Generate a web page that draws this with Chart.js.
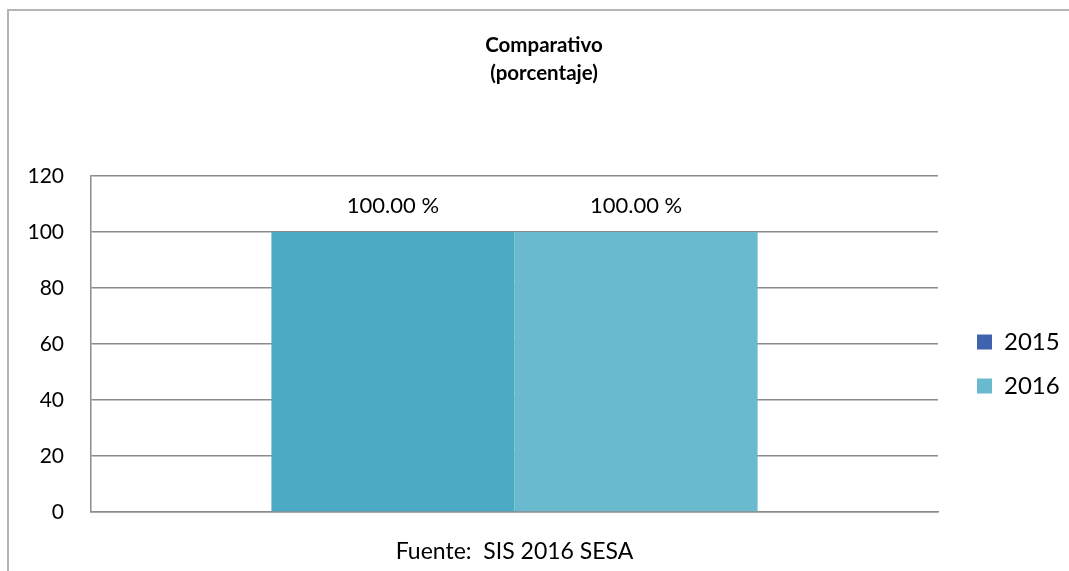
<!DOCTYPE html>
<html>
<head>
<meta charset="utf-8">
<script src="https://cdn.jsdelivr.net/npm/chart.js@4/dist/chart.umd.min.js"></script>
<style>
  body { margin: 0; background: #fff; }
  #wrap { position: relative; width: 1069px; height: 571px; }
  #frame { position: absolute; left: 7px; top: 9px; right: 0; bottom: 0;
           border-top: 2px solid #b4b4b4; border-left: 2px solid #b4b4b4; }
  canvas { position: absolute; left: 0; top: 0; }
</style>
</head>
<body>
<div id="wrap">
  <div id="frame"></div>
  <canvas id="barChart" width="1069" height="571"></canvas>
</div>
<script>
// Chart data
const categories = ["Fuente:  SIS 2016 SESA"];
const seriesNames = ["2015", "2016"];
const values2015 = [100];
const values2016 = [100];
const yTicks = [0, 20, 40, 60, 80, 100, 120];

// Colours (bar fill vs legend swatch differ in the original)
const barColors = ["#4BABC5", "#69B9CF"];
const legendColors = ["#4063AF", "#69B9CF"];

const FONT = "Lato, 'Open Sans', sans-serif";

// Draws "100.00 %" above each bar
const valueLabels = {
  id: "valueLabels",
  afterDatasetsDraw(chart) {
    const ctx = chart.ctx;
    ctx.save();
    ctx.font = "22px " + FONT;
    ctx.fillStyle = "#000";
    ctx.textAlign = "center";
    ctx.textBaseline = "middle";
    chart.data.datasets.forEach((ds, i) => {
      chart.getDatasetMeta(i).data.forEach((bar, j) => {
        ctx.fillText(ds.data[j].toFixed(2) + " %", bar.x, bar.y - 26);
      });
    });
    ctx.restore();
  },
};

const config = {
  type: "bar",
  data: {
    labels: categories,
    datasets: [
      { label: seriesNames[0], data: values2015, backgroundColor: barColors[0] },
      { label: seriesNames[1], data: values2016, backgroundColor: barColors[1] },
    ],
  },
  options: {
    responsive: false,
    animation: false,
    layout: { padding: { left: 19, right: 0, top: 0, bottom: 5.4 } },
    datasets: { bar: { categoryPercentage: 0.574, barPercentage: 1 } },
    plugins: {
      title: {
        display: true,
        text: ["Comparativo", "(porcentaje)"],
        color: "#000",
        font: { family: FONT, size: 20.5, weight: "bold", lineHeight: 1.366 },
        padding: { top: 31, bottom: 89 },
      },
      legend: {
        position: "right",
        fullSize: false,
        maxWidth: 112,
        // empty title only pushes the entries down a bit
        title: { display: true, text: "", font: { size: 10 }, padding: 14 },
        labels: {
          color: "#000",
          font: { family: FONT, size: 24 },
          boxWidth: 15,
          boxHeight: 15,
          padding: 20,
          generateLabels(chart) {
            return chart.data.datasets.map((ds, i) => ({
              text: ds.label,
              fillStyle: legendColors[i],
              strokeStyle: legendColors[i],
              fontColor: "#000",
              lineWidth: 0,
              datasetIndex: i,
            }));
          },
        },
      },
      tooltip: { enabled: false },
    },
    scales: {
      x: {
        grid: { display: false, drawTicks: true, tickLength: 26 },
        border: { color: "#8c8c8c", width: 1.5 },
        ticks: { color: "#000", font: { family: FONT, size: 23 }, padding: 0, maxRotation: 0, autoSkip: false },
      },
      y: {
        min: 0,
        max: 120,
        afterBuildTicks(scale) { scale.ticks = yTicks.map((v) => ({ value: v })); },
        afterFit(scale) { scale.width = 72; },
        grid: { color: "#8c8c8c", lineWidth: 1.5, drawTicks: false },
        border: { color: "#8c8c8c", width: 1.5 },
        ticks: { color: "#000", font: { family: FONT, size: 21 }, padding: 27 },
      },
      // empty spacer between plot and legend
      gap: {
        position: "right",
        grid: { display: false },
        border: { display: false },
        ticks: { display: false },
        afterFit(scale) { scale.width = 19; },
      },
    },
  },
  plugins: [valueLabels],
};

const ctx = document.getElementById("barChart").getContext("2d");
const chart = new Chart(ctx, config);
</script>
</body>
</html>
